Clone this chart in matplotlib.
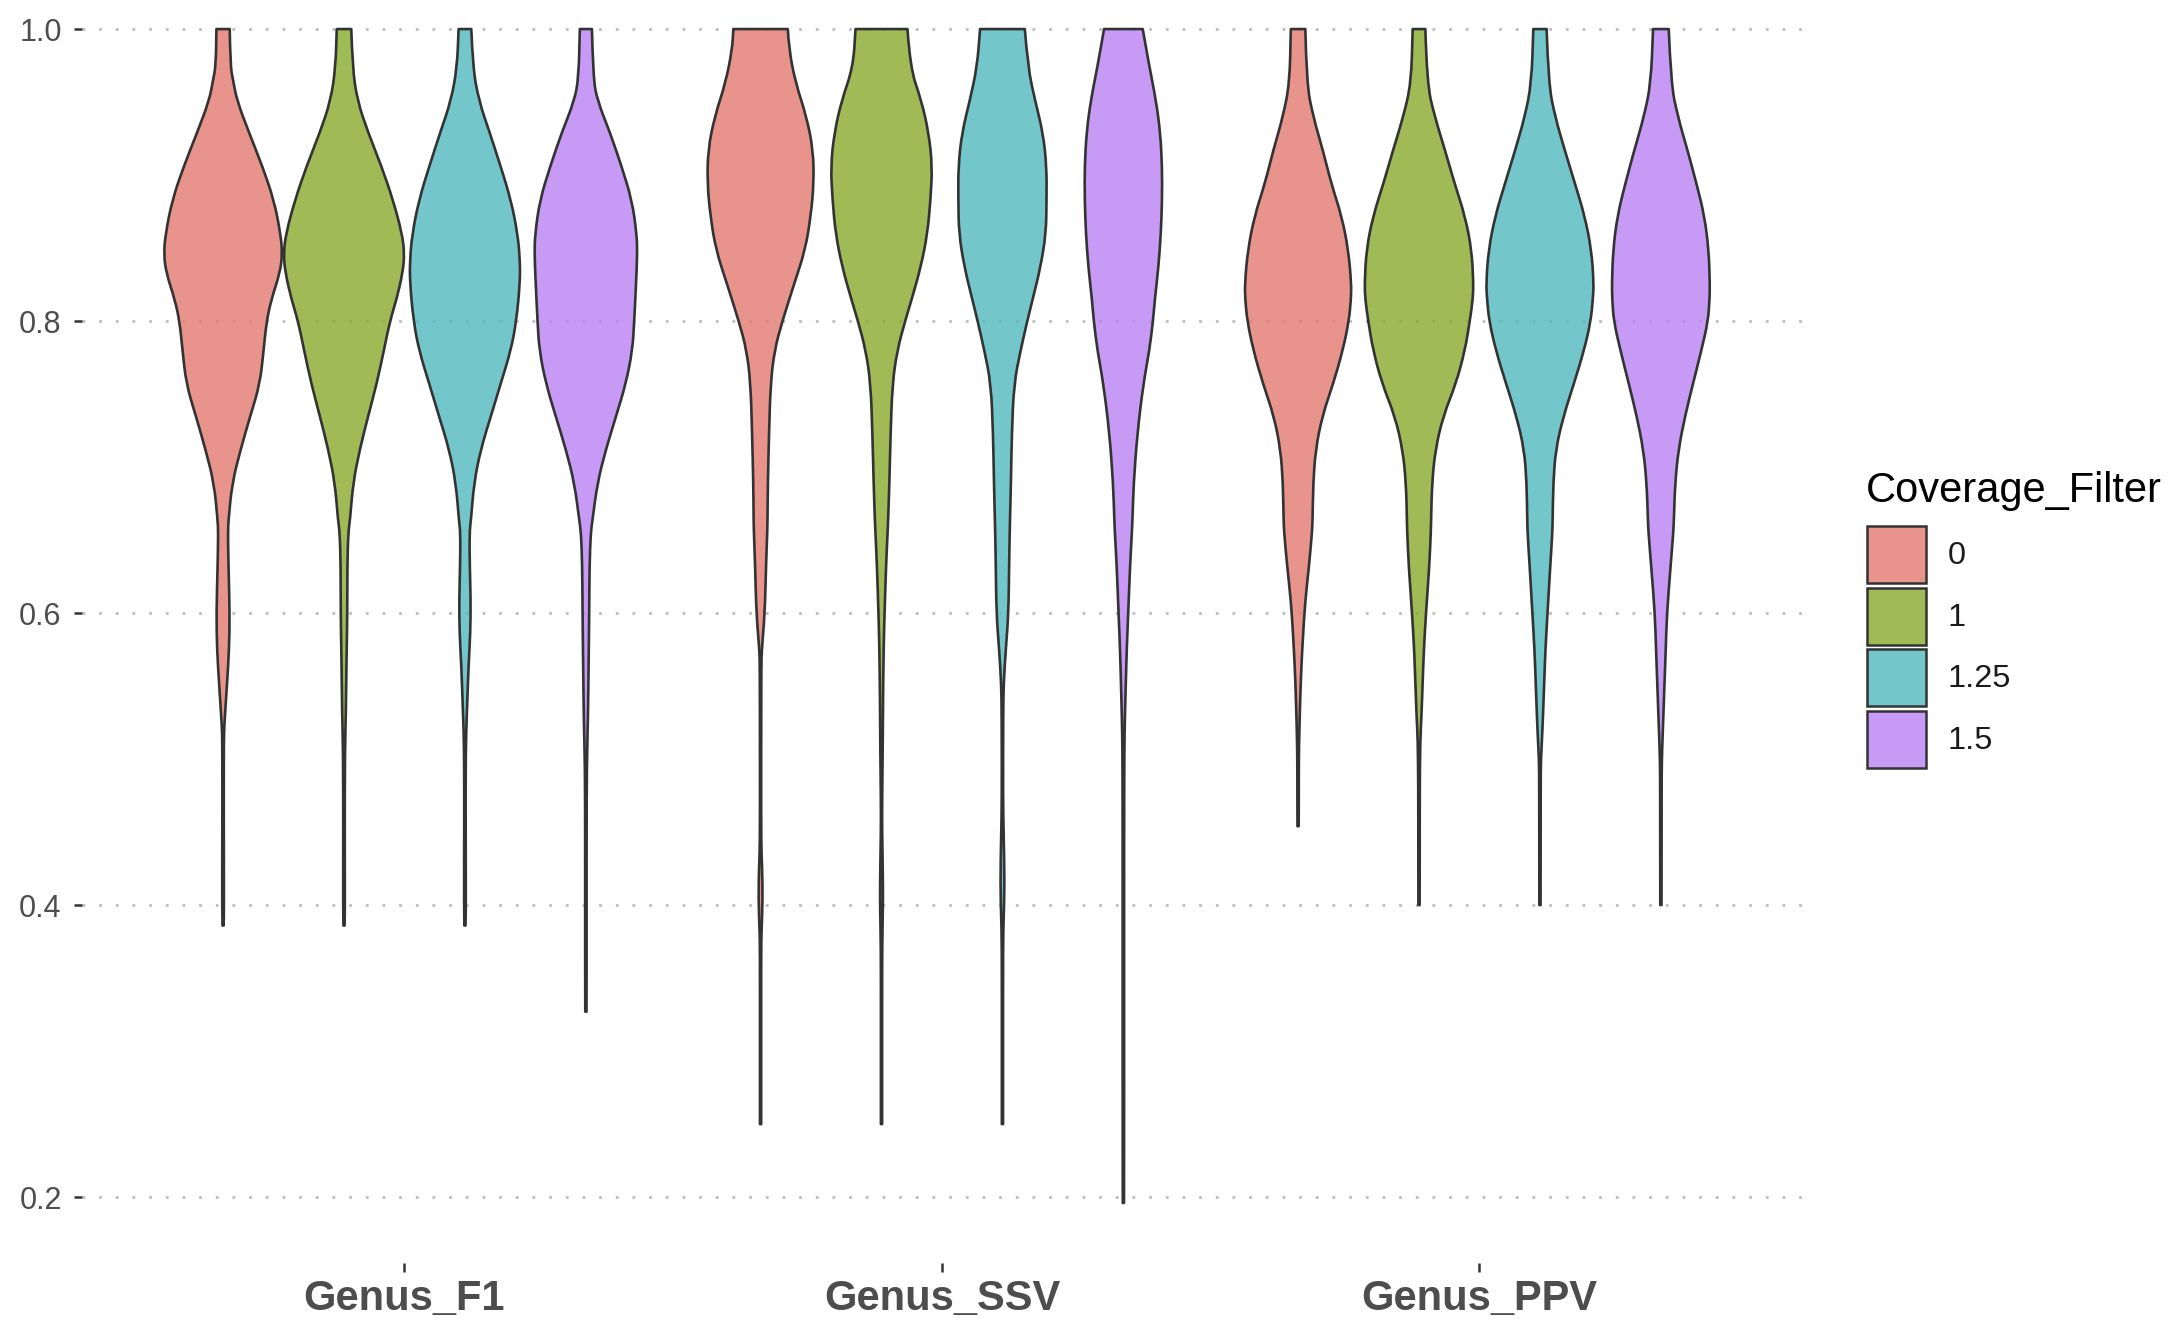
import matplotlib
matplotlib.use("Agg")
import matplotlib.pyplot as plt
from matplotlib.patches import Rectangle, PathPatch
from matplotlib.path import Path

plt.rcParams['font.family'] = ['Liberation Sans', 'DejaVu Sans']

# categories and fill levels
metrics = ['Genus_F1', 'Genus_SSV', 'Genus_PPV']
filters = ['0', '1', '1.25', '1.5']
fill_colors = ['#E37A71', '#88A92C', '#50B9BE', '#BA81F3']
fill_alpha = 0.8

# violin outlines: y value and half width (1 = widest possible)
f1_0_y = [1.0, 0.975, 0.965, 0.951, 0.929, 0.906, 0.883, 0.860, 0.846, 0.833, 0.815, 0.800, 0.780, 0.757,
          0.735, 0.712, 0.689, 0.664, 0.655, 0.632, 0.600, 0.575, 0.552, 0.529, 0.518, 0.50, 0.45, 0.40, 0.386]
f1_0_w = [0.11, 0.12, 0.165, 0.23, 0.43, 0.65, 0.84, 0.95, 0.98, 0.94, 0.80, 0.72, 0.67, 0.61,
          0.45, 0.29, 0.15, 0.09, 0.08, 0.09, 0.11, 0.10, 0.066, 0.03, 0.015, 0.012, 0.012, 0.015, 0.01]
f1_1_y = [1.0, 0.974, 0.951, 0.929, 0.906, 0.883, 0.860, 0.846, 0.833, 0.815, 0.800, 0.780, 0.757,
          0.735, 0.712, 0.689, 0.664, 0.655, 0.632, 0.60, 0.564, 0.529, 0.506, 0.45, 0.40, 0.386]
f1_1_w = [0.12, 0.14, 0.22, 0.40, 0.62, 0.81, 0.96, 1.0, 0.97, 0.87, 0.76, 0.66, 0.54,
          0.40, 0.26, 0.15, 0.10, 0.07, 0.055, 0.055, 0.04, 0.03, 0.015, 0.012, 0.015, 0.01]
f1_2_y = [1.0, 0.974, 0.951, 0.929, 0.906, 0.883, 0.860, 0.842, 0.826, 0.800, 0.780, 0.757, 0.735,
          0.712, 0.689, 0.664, 0.655, 0.632, 0.609, 0.587, 0.564, 0.541, 0.518, 0.495, 0.45, 0.40, 0.386]
f1_2_w = [0.105, 0.13, 0.23, 0.41, 0.59, 0.76, 0.87, 0.91, 0.91, 0.85, 0.76, 0.59, 0.43,
          0.26, 0.15, 0.10, 0.075, 0.08, 0.095, 0.09, 0.06, 0.04, 0.02, 0.012, 0.012, 0.015, 0.01]
f1_3_y = [1.0, 0.967, 0.951, 0.929, 0.906, 0.883, 0.860, 0.846, 0.826, 0.800, 0.780, 0.757, 0.735,
          0.712, 0.689, 0.664, 0.655, 0.632, 0.60, 0.564, 0.529, 0.495, 0.45, 0.40, 0.35, 0.327]
f1_3_w = [0.10, 0.12, 0.19, 0.40, 0.59, 0.76, 0.84, 0.85, 0.83, 0.80, 0.77, 0.66, 0.50,
          0.33, 0.19, 0.11, 0.08, 0.06, 0.055, 0.045, 0.035, 0.015, 0.012, 0.012, 0.012, 0.01]

ssv_0_y = [1.0, 0.986, 0.963, 0.940, 0.917, 0.894, 0.872, 0.849, 0.826, 0.80, 0.78, 0.757, 0.723, 0.689,
           0.664, 0.655, 0.632, 0.60, 0.575, 0.564, 0.50, 0.44, 0.427, 0.404, 0.381, 0.37, 0.30, 0.25]
ssv_0_w = [0.45, 0.47, 0.58, 0.76, 0.87, 0.88, 0.83, 0.74, 0.56, 0.36, 0.23, 0.165, 0.14, 0.12,
           0.115, 0.11, 0.09, 0.07, 0.02, 0.012, 0.01, 0.01, 0.025, 0.035, 0.015, 0.01, 0.01, 0.01]
ssv_1_y = [1.0, 0.974, 0.951, 0.929, 0.906, 0.883, 0.860, 0.837, 0.815, 0.80, 0.78, 0.757, 0.723, 0.689,
           0.664, 0.655, 0.632, 0.60, 0.575, 0.541, 0.506, 0.472, 0.45, 0.427, 0.404, 0.381, 0.36, 0.30, 0.25]
ssv_1_w = [0.43, 0.47, 0.66, 0.78, 0.84, 0.81, 0.76, 0.65, 0.50, 0.39, 0.26, 0.18, 0.15, 0.13,
           0.11, 0.10, 0.075, 0.05, 0.035, 0.025, 0.02, 0.01, 0.01, 0.02, 0.025, 0.015, 0.01, 0.01, 0.01]
ssv_2_y = [1.0, 0.974, 0.951, 0.929, 0.906, 0.883, 0.860, 0.837, 0.815, 0.80, 0.78, 0.757, 0.723, 0.689,
           0.664, 0.655, 0.632, 0.60, 0.575, 0.552, 0.53, 0.47, 0.45, 0.415, 0.39, 0.375, 0.30, 0.25]
ssv_2_w = [0.37, 0.42, 0.54, 0.67, 0.73, 0.73, 0.72, 0.63, 0.50, 0.41, 0.30, 0.19, 0.155, 0.14,
           0.125, 0.12, 0.11, 0.10, 0.055, 0.02, 0.012, 0.01, 0.02, 0.035, 0.02, 0.01, 0.01, 0.01]
ssv_3_y = [1.0, 0.974, 0.951, 0.929, 0.906, 0.883, 0.860, 0.837, 0.815, 0.80, 0.78, 0.757, 0.723, 0.689,
           0.664, 0.655, 0.632, 0.60, 0.575, 0.552, 0.529, 0.506, 0.45, 0.35, 0.25, 0.196]
ssv_3_w = [0.32, 0.43, 0.54, 0.61, 0.64, 0.64, 0.62, 0.58, 0.52, 0.49, 0.43, 0.33, 0.23, 0.17,
           0.15, 0.14, 0.11, 0.08, 0.055, 0.04, 0.025, 0.015, 0.012, 0.012, 0.012, 0.01]

ppv_0_y = [1.0, 0.963, 0.940, 0.917, 0.894, 0.872, 0.849, 0.826, 0.815, 0.80, 0.78, 0.757, 0.735, 0.712,
           0.689, 0.664, 0.655, 0.632, 0.609, 0.587, 0.564, 0.541, 0.518, 0.50, 0.47, 0.454]
ppv_0_w = [0.12, 0.14, 0.25, 0.41, 0.55, 0.72, 0.83, 0.88, 0.875, 0.84, 0.74, 0.58, 0.40, 0.29,
           0.25, 0.24, 0.23, 0.18, 0.12, 0.085, 0.055, 0.035, 0.02, 0.012, 0.012, 0.01]
ppv_1_y = [1.0, 0.963, 0.940, 0.917, 0.894, 0.872, 0.849, 0.826, 0.815, 0.80, 0.78, 0.757, 0.735, 0.712,
           0.689, 0.664, 0.655, 0.632, 0.60, 0.575, 0.552, 0.529, 0.513, 0.48, 0.44, 0.40]
ppv_1_w = [0.105, 0.13, 0.26, 0.43, 0.59, 0.76, 0.87, 0.90, 0.89, 0.84, 0.76, 0.61, 0.40, 0.27,
           0.215, 0.20, 0.195, 0.17, 0.115, 0.08, 0.06, 0.04, 0.02, 0.012, 0.012, 0.01]
ppv_2_y = [1.0, 0.963, 0.940, 0.917, 0.894, 0.872, 0.849, 0.826, 0.815, 0.80, 0.78, 0.757, 0.735, 0.712,
           0.689, 0.664, 0.655, 0.632, 0.60, 0.575, 0.552, 0.529, 0.506, 0.495, 0.45, 0.40]
ppv_2_w = [0.11, 0.14, 0.25, 0.41, 0.58, 0.74, 0.85, 0.89, 0.875, 0.84, 0.73, 0.56, 0.39, 0.26,
           0.22, 0.21, 0.205, 0.17, 0.125, 0.09, 0.07, 0.05, 0.025, 0.012, 0.012, 0.01]
ppv_3_y = [1.0, 0.963, 0.940, 0.917, 0.894, 0.872, 0.849, 0.826, 0.815, 0.80, 0.78, 0.757, 0.735, 0.712,
           0.689, 0.664, 0.655, 0.632, 0.60, 0.575, 0.552, 0.529, 0.506, 0.49, 0.45, 0.40]
ppv_3_w = [0.13, 0.165, 0.28, 0.44, 0.59, 0.72, 0.79, 0.81, 0.805, 0.78, 0.67, 0.53, 0.40, 0.29,
           0.235, 0.215, 0.205, 0.16, 0.10, 0.08, 0.06, 0.04, 0.02, 0.012, 0.012, 0.01]

violins = [
    [(f1_0_y, f1_0_w), (f1_1_y, f1_1_w), (f1_2_y, f1_2_w), (f1_3_y, f1_3_w)],
    [(ssv_0_y, ssv_0_w), (ssv_1_y, ssv_1_w), (ssv_2_y, ssv_2_w), (ssv_3_y, ssv_3_w)],
    [(ppv_0_y, ppv_0_w), (ppv_1_y, ppv_1_w), (ppv_2_y, ppv_2_w), (ppv_3_y, ppv_3_w)],
]


def smooth_side(pts):
    # quadratic bezier through midpoints, so the outline is drawn as a curve
    verts, codes = [], []
    for i in range(1, len(pts) - 1):
        mid = ((pts[i][0] + pts[i + 1][0]) / 2, (pts[i][1] + pts[i + 1][1]) / 2)
        verts += [pts[i], mid]
        codes += [Path.CURVE3, Path.CURVE3]
    verts.append(pts[-1])
    codes.append(Path.LINETO)
    return verts, codes


def violin_path(cx, ys, half):
    right = [(cx + h, y) for y, h in zip(ys, half)]
    left = [(cx - h, y) for y, h in zip(ys[::-1], half[::-1])]
    verts, codes = [right[0]], [Path.MOVETO]
    v, c = smooth_side(right)
    verts += v
    codes += c
    verts.append(left[0])
    codes.append(Path.LINETO)
    v, c = smooth_side(left)
    verts += v
    codes += c
    verts.append(right[0])
    codes.append(Path.CLOSEPOLY)
    return Path(verts, codes)


W, H = 2180, 1328
fig = plt.figure(figsize=(W / 200, H / 200), dpi=200)
ax = fig.add_axes([0.0376, 0.0491, 0.789, 0.973])

# dodge: 4 violins share 0.9 of each category slot
slot = 0.9 / len(filters)
for g, group in enumerate(violins):
    for k, (ys, ws) in enumerate(group):
        cx = (g + 1) + (k - (len(filters) - 1) / 2) * slot
        half = [w * slot / 2 for w in ws]
        p = violin_path(cx, list(ys), half)
        ax.add_patch(PathPatch(p, facecolor=fill_colors[k], alpha=fill_alpha, edgecolor='none', zorder=2))
        ax.add_patch(PathPatch(p, facecolor='none', edgecolor='#333333', linewidth=0.95,
                               joinstyle='round', zorder=3))

ax.set_xlim(0.4, 3.6)
ax.set_ylim(0.155, 1.04)
ax.set_xticks([1, 2, 3])
ax.set_xticklabels(metrics, fontsize=15, fontweight='bold', color='#4D4D4D')
ax.set_yticks([0.2, 0.4, 0.6, 0.8, 1.0])
ax.set_yticklabels(['0.2', '0.4', '0.6', '0.8', '1.0'], fontsize=11, color='#4D4D4D')
ax.tick_params(axis='y', length=3.0, width=0.9, color='#333333', pad=4.3)
ax.tick_params(axis='x', length=3.2, width=0.9, color='#333333', pad=2.5)
for sp in ax.spines.values():
    sp.set_visible(False)
ax.set_axisbelow(True)
ax.grid(axis='y', color='#BDBDBD', linestyle=(0, (1, 5)), linewidth=1.0)
ax.grid(axis='x', visible=False)

# legend drawn in pixel coordinates on an overlay
lg = fig.add_axes([0, 0, 1, 1])
lg.set_xlim(0, W)
lg.set_ylim(H, 0)
lg.axis('off')
lg.text(1866, 502, 'Coverage_Filter', fontsize=15, color='black', va='baseline', ha='left')
key_top = [526, 588, 649, 711]
for k, lab in enumerate(filters):
    lg.add_patch(Rectangle((1867, key_top[k]), 59, 57, facecolor=fill_colors[k], alpha=fill_alpha,
                           edgecolor='none'))
    lg.add_patch(Rectangle((1867, key_top[k]), 59, 57, facecolor='none', edgecolor='#333333',
                           linewidth=0.9))
    lg.text(1948, key_top[k] + 30, lab, fontsize=11.7, color='#1A1A1A', va='center', ha='left')

fig.savefig('out.png', dpi=200, facecolor='white')
